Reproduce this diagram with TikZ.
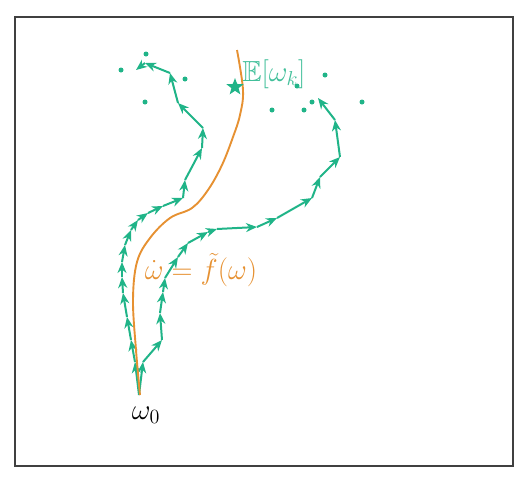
\documentclass[tikz,border=0pt]{standalone}
\usepackage{amsmath,amssymb}
\usetikzlibrary{arrows.meta,shapes.geometric}
\definecolor{pgreen}{RGB}{32,180,136}
\definecolor{porange}{RGB}{230,145,50}
\begin{document}
\begin{tikzpicture}[x=1pt,y=-1pt,
  stepar/.style={draw=pgreen, line width=2pt, -{Stealth[length=11pt,width=9pt,inset=3.5pt]}},
  sample/.style={circle,fill=pgreen,inner sep=0pt,minimum size=5pt},
  flow/.style={draw=porange, line width=1.9pt},
  bigmath/.style={font=\fontsize{20.74}{25}\selectfont, inner sep=0pt, scale=1.4, transform shape}]
\useasboundingbox (0,0) rectangle (531,482);
\draw[line width=1.5pt, draw=black!75] (15,17) rectangle (513,466);
% left trajectory
\foreach \pt [count=\i] in {{139,395},{135,362},{131,340},{127,317},{123,293},{122,277},{122,262},{125,245},{131,230},{138,220},{148,213},{163,206},{183,198},{185,180},{202,148},{203,128},{178,103},{170,73},{145,63},{136,70}}
  \coordinate (L\i) at (\pt);
\foreach \i in {1,...,19} {\pgfmathtruncatemacro\j{\i+1}\draw[stepar] (L\i) -- (L\j);}
% right trajectory
\foreach \pt [count=\i] in {{139,395},{143,362},{162,340},{160,313},{163,292},{165,278},{178,257},{188,243},{208,232},{217,229},{257,227},{277,218},{312,198},{320,177},{340,157},{335,120},{318,98}}
  \coordinate (R\i) at (\pt);
\foreach \i in {1,...,16} {\pgfmathtruncatemacro\j{\i+1}\draw[stepar] (R\i) -- (R\j);}
% mean flow
\draw[flow] plot[smooth, tension=0.6] coordinates {(140,395) (136,350) (133,300) (137,262) (150,238) (170,218) (192,208) (208,190) (222,165) (233,137) (240,115) (243,90) (237,50)};
% samples
\foreach \pt [count=\i] in {{146,54},{121,70},{185,79},{145,102},{325,75},{297,86},{272,110},{304,110},{312,102},{362,102}}
  \node[sample] (s\i) at (\pt) {};
\node[star, star points=5, star point ratio=2.4, fill=pgreen, inner sep=0pt, minimum size=18pt] (mean) at (235,87) {};
\node[bigmath, text=pgreen!85, anchor=west] (elab) at (242,74) {$\mathbb{E}[\omega_k]$};
\node[bigmath, text=porange] (flab) at (201,270) {$\dot\omega = \tilde f(\omega)$};
\node[bigmath] (w0) at (146,415) {$\omega_0$};
\end{tikzpicture}
\end{document}
